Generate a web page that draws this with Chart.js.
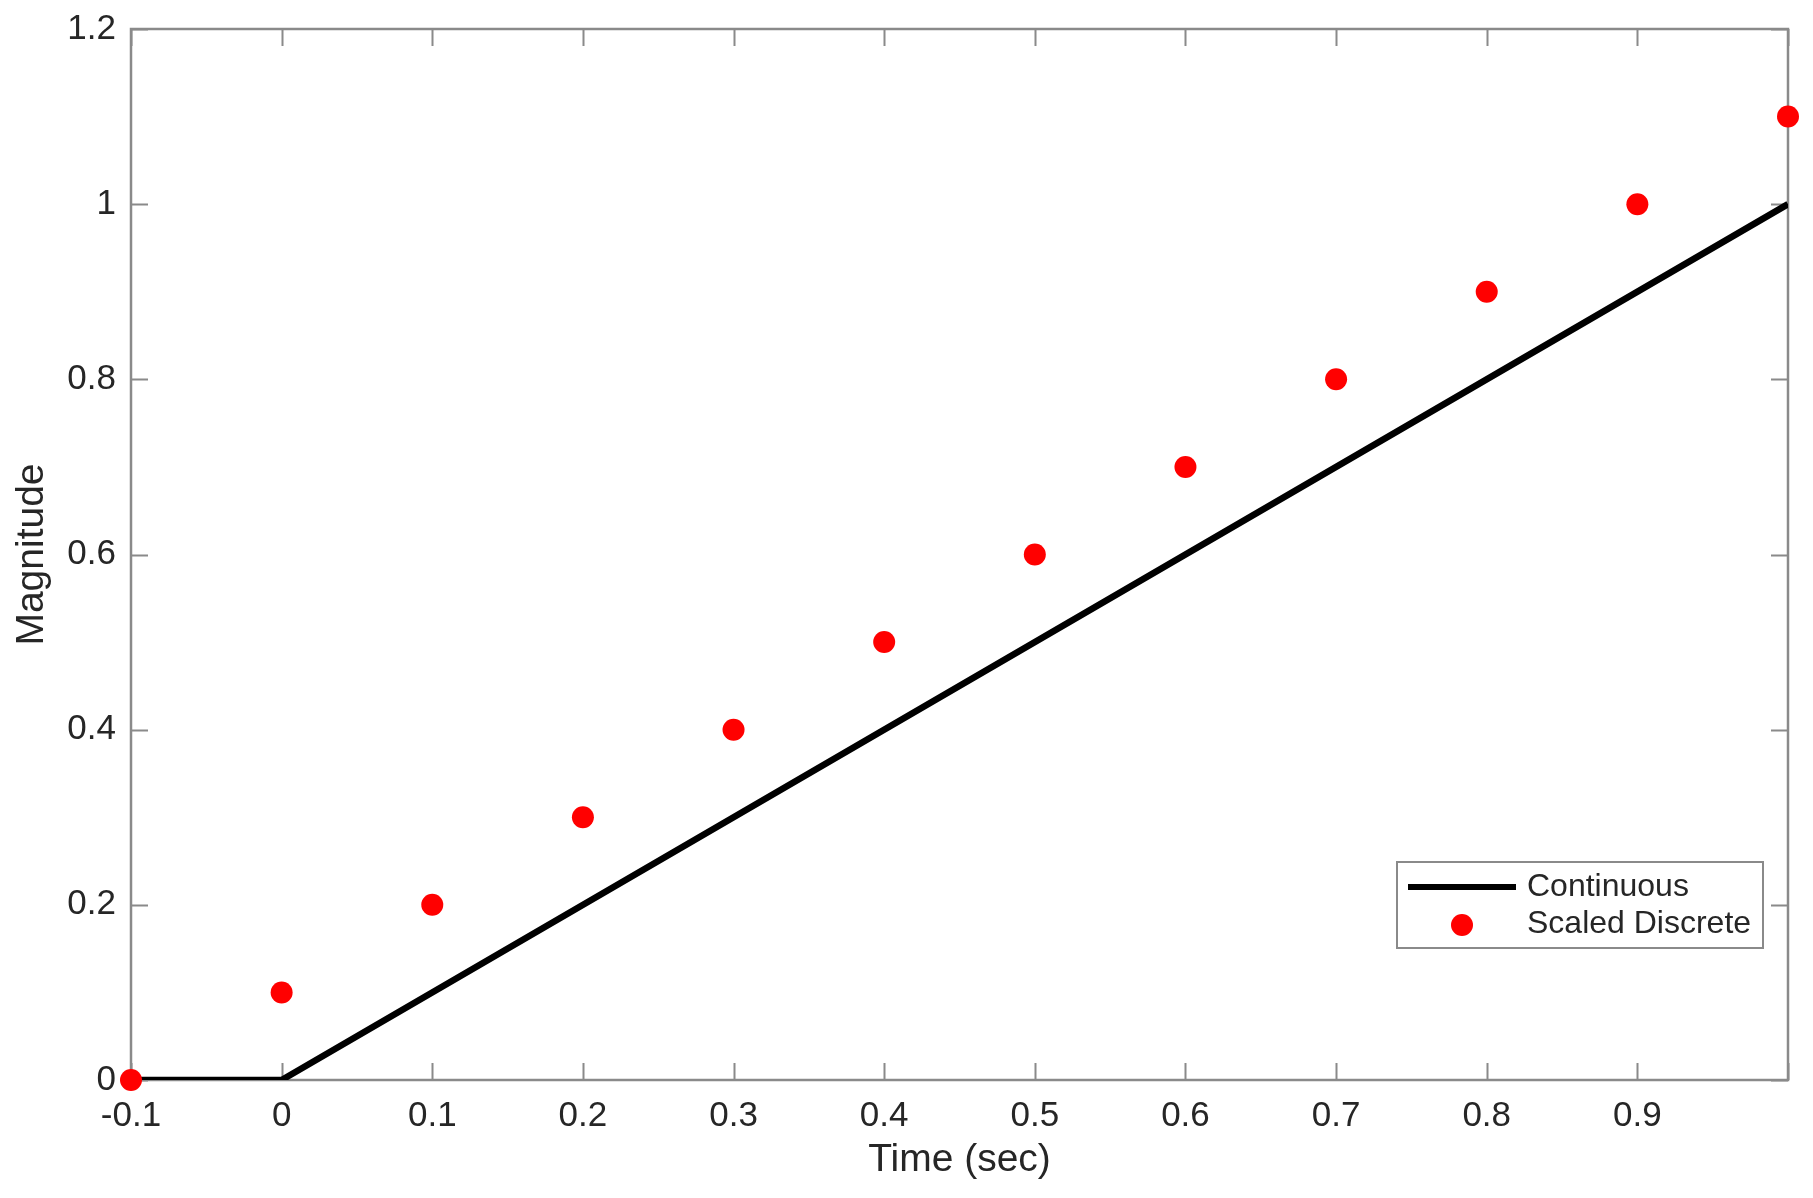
<!DOCTYPE html>
<html>
<head>
<meta charset="utf-8">
<title>Continuous vs Scaled Discrete</title>
<script src="https://cdn.jsdelivr.net/npm/chart.js@4.4.1/dist/chart.umd.min.js"></script>
<style>
    html, body { margin: 0; padding: 0; background: #fff; }
    canvas { display: block; }
</style>
</head>
<body>
<canvas id="ramp_chart" width="1813" height="1198"></canvas>
<script>
// data
var cont_t = [-0.1, 0, 1.0];
var cont_y = [0, 0, 1.0];
var disc_t = [-0.1, 0, 0.1, 0.2, 0.3, 0.4, 0.5, 0.6, 0.7, 0.8, 0.9, 1.0];
var disc_y = [0, 0.1, 0.2, 0.3, 0.4, 0.5, 0.6, 0.7, 0.8, 0.9, 1.0, 1.1];
var x_ticks = [-0.1, 0, 0.1, 0.2, 0.3, 0.4, 0.5, 0.6, 0.7, 0.8, 0.9, 1.0];
var x_tick_labels = ['-0.1', '0', '0.1', '0.2', '0.3', '0.4', '0.5', '0.6', '0.7', '0.8', '0.9', ''];
var y_ticks = [0, 0.2, 0.4, 0.6, 0.8, 1.0, 1.2];
var y_tick_labels = ['0', '0.2', '0.4', '0.6', '0.8', '1', '1.2'];
var series_names = ['Continuous', 'Scaled Discrete'];

var FONT = '"Liberation Sans", Arial, Helvetica, sans-serif';
var AXIS_COLOR = '#8a8a8a';
var TEXT_COLOR = '#262626';
var TICK_LEN = 17;

function toPoints(xs, ys){
    var pts = [];
    for(var i = 0; i < xs.length; i++){
        pts.push({x: xs[i], y: ys[i]});
    }
    return pts;
}

// box round the plot + inward ticks on all four sides
var axesBox = {
    id: 'axesBox',
    beforeDatasetsDraw: function(chart){
        var ctx = chart.ctx;
        var a = chart.chartArea;
        var xs = chart.scales.x;
        var ys = chart.scales.y;
        ctx.save();
        ctx.strokeStyle = AXIS_COLOR;
        ctx.lineWidth = 2;
        ctx.beginPath();
        for(var i = 0; i < x_ticks.length; i++){
            var px = Math.round(xs.getPixelForValue(x_ticks[i])) + 0.5;
            ctx.moveTo(px, a.bottom);
            ctx.lineTo(px, a.bottom - TICK_LEN);
            ctx.moveTo(px, a.top);
            ctx.lineTo(px, a.top + TICK_LEN);
        }
        for(var j = 0; j < y_ticks.length; j++){
            var py = Math.round(ys.getPixelForValue(y_ticks[j])) + 0.5;
            ctx.moveTo(a.left, py);
            ctx.lineTo(a.left + TICK_LEN, py);
            ctx.moveTo(a.right, py);
            ctx.lineTo(a.right - TICK_LEN, py);
        }
        ctx.stroke();
        ctx.lineWidth = 2.5;
        ctx.strokeRect(a.left, a.top, a.right - a.left, a.bottom - a.top);
        ctx.restore();
    }
};

// legend drawn inside the plot, lower right
var boxLegend = {
    id: 'boxLegend',
    afterDraw: function(chart){
        var ctx = chart.ctx;
        var a = chart.chartArea;
        var bx = a.right - 391, by = a.top + 833, bw = 366, bh = 86;
        ctx.save();
        ctx.fillStyle = '#fff';
        ctx.fillRect(bx, by, bw, bh);
        ctx.strokeStyle = AXIS_COLOR;
        ctx.lineWidth = 2;
        ctx.strokeRect(bx, by, bw, bh);

        // line sample
        ctx.strokeStyle = '#000';
        ctx.lineWidth = 6;
        ctx.beginPath();
        ctx.moveTo(bx + 11, by + 25);
        ctx.lineTo(bx + 119, by + 25);
        ctx.stroke();
        // marker sample
        ctx.fillStyle = '#ff0000';
        ctx.beginPath();
        ctx.arc(bx + 65, by + 63, 11, 0, Math.PI * 2);
        ctx.fill();

        ctx.fillStyle = TEXT_COLOR;
        ctx.font = '32px ' + FONT;
        ctx.textBaseline = 'middle';
        ctx.textAlign = 'left';
        ctx.fillText(series_names[0], bx + 130, by + 25);
        ctx.fillText(series_names[1], bx + 130, by + 62);
        ctx.restore();
    }
};

const ctx = document.getElementById('ramp_chart');
var ramp_chart = new Chart(ctx, {
    type: 'scatter',
    data: {
        datasets: [{
            label: series_names[1],
            data: toPoints(disc_t, disc_y),
            backgroundColor: '#ff0000',
            borderColor: '#ff0000',
            pointRadius: 11,
            pointBorderWidth: 0,
            showLine: false,
            clip: false,
            order: 0
        }, {
            label: series_names[0],
            data: toPoints(cont_t, cont_y),
            borderColor: '#000000',
            borderWidth: 6.5,
            pointRadius: 0,
            showLine: true,
            fill: false,
            tension: 0,
            order: 1
        }]
    },
    options: {
        responsive: false,
        devicePixelRatio: 1,
        animation: false,
        layout: {
            padding: { top: 29, right: 25, left: 0, bottom: 0 }
        },
        scales: {
            x: {
                type: 'linear',
                min: -0.1,
                max: 1.0,
                grid: { display: false },
                border: { display: false },
                afterBuildTicks: function(scale){
                    scale.ticks = x_ticks.map(function(v){ return {value: v}; });
                },
                afterFit: function(scale){
                    scale.height = 118;
                },
                ticks: {
                    autoSkip: false,
                    maxRotation: 0,
                    padding: 7,
                    color: TEXT_COLOR,
                    font: { family: FONT, size: 35 },
                    callback: function(value, index){
                        return x_tick_labels[index];
                    }
                },
                title: {
                    display: true,
                    text: 'Time (sec)',
                    color: TEXT_COLOR,
                    font: { family: FONT, size: 39 },
                    padding: { top: 0, bottom: 14 }
                }
            },
            y: {
                type: 'linear',
                min: 0,
                max: 1.2,
                grid: { display: false },
                border: { display: false },
                afterBuildTicks: function(scale){
                    scale.ticks = y_ticks.map(function(v){ return {value: v}; });
                },
                afterFit: function(scale){
                    scale.width = 131;
                },
                ticks: {
                    autoSkip: false,
                    padding: 7,
                    color: TEXT_COLOR,
                    font: { family: FONT, size: 35, lineHeight: 0.86 },
                    callback: function(value, index){
                        return y_tick_labels[index];
                    }
                },
                title: {
                    display: true,
                    text: 'Magnitude',
                    color: TEXT_COLOR,
                    font: { family: FONT, size: 39 },
                    padding: { top: 9, bottom: 0 }
                }
            }
        },
        plugins: {
            legend: false,
            tooltip: { enabled: false }
        }
    },
    plugins: [axesBox, boxLegend]
});
</script>
</body>
</html>
